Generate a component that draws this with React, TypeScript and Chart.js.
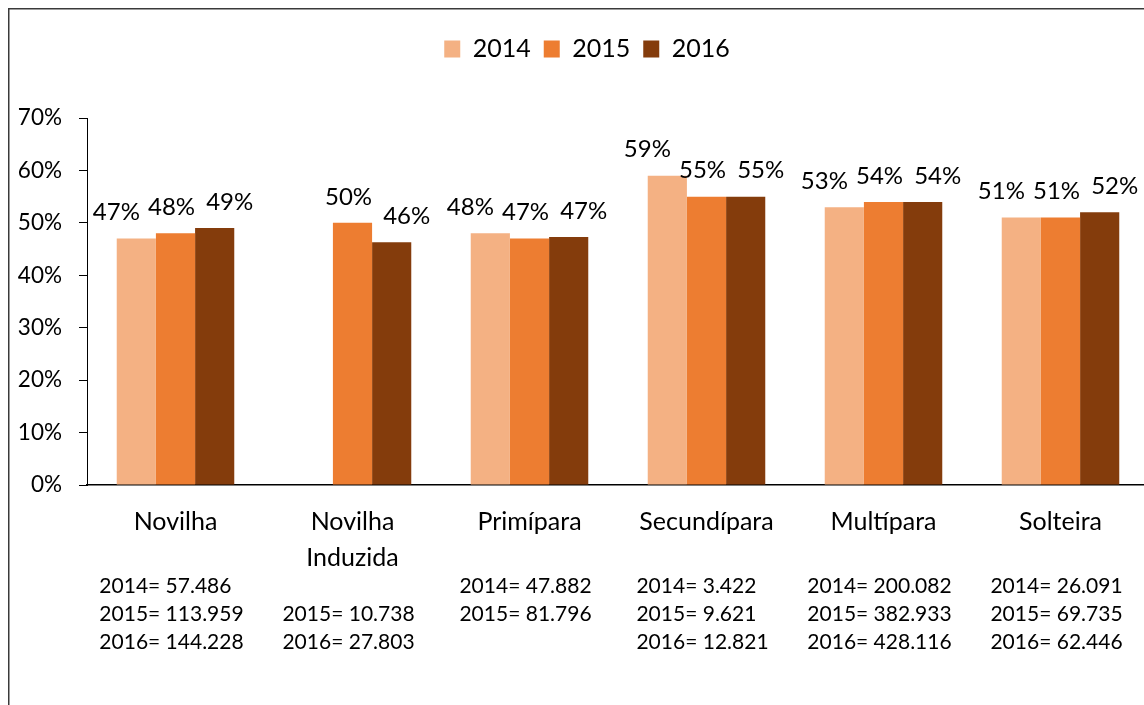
import { useEffect, useRef } from 'react';
import { Chart, registerables } from 'chart.js';

Chart.register(...registerables);

// ---- data ----
const categories: (string | string[])[] = [
  'Novilha',
  ['Novilha', 'Induzida'],
  'Primípara',
  'Secundípara',
  'Multípara',
  'Solteira',
];
const years = ['2014', '2015', '2016'];
const pct2014: (number | null)[] = [47, null, 48, 59, 53, 51];
const pct2015: (number | null)[] = [48, 50, 47, 55, 54, 51];
const pct2016: (number | null)[] = [49, 46.3, 47.3, 55, 54, 52];
const n2014: (number | null)[] = [57486, null, 47882, 3422, 200082, 26091];
const n2015: (number | null)[] = [113959, 10738, 81796, 9621, 382933, 69735];
const n2016: (number | null)[] = [144228, 27803, null, 12821, 428116, 62446];
const yTicks = [0, 10, 20, 30, 40, 50, 60, 70];

const colors = ['#F4B183', '#ED7D31', '#843C0C'];
const labelDx = [-20, -4, 15];
const FONT = 'Lato';

const fmt = (n: number) => n.toString().replace(/\B(?=(\d{3})+(?!\d))/g, '.');

const framePlugin = {
  id: 'frame',
  beforeDraw(chart: any) {
    const ctx = chart.ctx;
    ctx.save();
    ctx.strokeStyle = '#3a3a3a';
    ctx.lineWidth = 1.5;
    ctx.beginPath();
    ctx.moveTo(0.75, chart.height + 5);
    ctx.lineTo(0.75, 0.75);
    ctx.lineTo(chart.width + 5, 0.75);
    ctx.stroke();
    ctx.restore();
  },
};

const legendShiftPlugin = {
  id: 'legendShift',
  afterLayout(chart: any) {
    const lg = chart.legend;
    if (lg) {
      lg.left += 7;
      lg.right += 7;
    }
  },
};

const valueLabelPlugin = {
  id: 'valueLabels',
  afterDatasetsDraw(chart: any) {
    const ctx = chart.ctx;
    ctx.save();
    ctx.font = `24px ${FONT}`;
    ctx.fillStyle = '#000';
    ctx.textAlign = 'center';
    ctx.textBaseline = 'middle';
    chart.data.datasets.forEach((ds: any, di: number) => {
      const meta = chart.getDatasetMeta(di);
      meta.data.forEach((bar: any, i: number) => {
        const v = ds.data[i];
        if (v == null) return;
        ctx.fillText(`${Math.round(v)}%`, bar.x + labelDx[di], bar.y - 26);
      });
    });
    ctx.restore();
  },
};

const countsPlugin = {
  id: 'counts',
  afterDraw(chart: any) {
    const ctx = chart.ctx;
    const xs = chart.scales.x;
    const rows = [n2014, n2015, n2016];
    ctx.save();
    ctx.font = `21px ${FONT}`;
    ctx.fillStyle = '#000';
    ctx.textAlign = 'left';
    ctx.textBaseline = 'middle';
    categories.forEach((_c, i) => {
      const lines = rows.map((r, ri) => (r[i] == null ? null : `${years[ri]}= ${fmt(r[i] as number)}`));
      const w = Math.max(...lines.map((l) => (l ? ctx.measureText(l).width : 0)));
      const left = xs.getPixelForValue(i) - w / 2 - 4;
      lines.forEach((l, ri) => {
        if (!l) return;
        ctx.fillText(l, left, chart.chartArea.bottom + 101 + ri * 28);
      });
    });
    ctx.restore();
  },
};

export default function App() {
  const ref = useRef<HTMLCanvasElement>(null);
  useEffect(() => {
    Chart.defaults.font.family = FONT;
    Chart.defaults.color = '#000';
    const chart = new Chart(ref.current!, {
      type: 'bar',
      data: {
        labels: categories as any,
        datasets: [pct2014, pct2015, pct2016].map((d, i) => ({
          label: years[i],
          data: d,
          backgroundColor: colors[i],
          borderWidth: 0,
          barPercentage: 1,
          categoryPercentage: 0.664,
        })),
      },
      options: {
        responsive: false,
        animation: false,
        layout: { padding: { top: 15.5, left: 3, right: 0, bottom: 0 } },
        plugins: {
          legend: {
            position: 'top',
            labels: {
              boxWidth: 16,
              boxHeight: 17,
              padding: 13,
              color: '#000',
              font: { size: 25, family: FONT },
            },
          },
          subtitle: {
            display: true,
            text: '',
            weight: 500,
            font: { size: 10 },
            padding: { top: 0, bottom: 34.5 },
          } as any,
          tooltip: { enabled: false },
        },
        scales: {
          x: {
            grid: { display: false },
            border: { display: true, color: '#000', width: 1.5 },
            ticks: {
              color: '#000',
              font: { size: 25, family: FONT, lineHeight: 1.44 },
              padding: 11,
              maxRotation: 0,
              autoSkip: false,
            },
            afterFit: (s: any) => {
              s.height = 220;
            },
          },
          y: {
            min: 0,
            max: 70,
            afterBuildTicks: (s: any) => {
              s.ticks = yTicks.map((v) => ({ value: v }));
            },
            grid: {
              display: true,
              drawOnChartArea: false,
              drawTicks: true,
              tickLength: 8,
              color: '#000',
            },
            border: { display: true, color: '#000', width: 1 },
            ticks: {
              color: '#000',
              font: { size: 22.5, family: FONT },
              padding: 17,
              callback: (v: any) => `${v}%`,
            },
            afterFit: (s: any) => {
              s.width = 76;
            },
          },
        },
      },
      plugins: [framePlugin, legendShiftPlugin, valueLabelPlugin, countsPlugin],
    });
    return () => chart.destroy();
  }, []);
  return (
    <div
      style={{
        position: 'fixed',
        left: 8,
        top: 8,
        width: 1136,
        height: 697,
        overflow: 'hidden',
        background: '#fff',
      }}
    >
      <canvas ref={ref} width={1141} height={697} style={{ display: 'block', width: 1141, height: 697 }} />
    </div>
  );
}
